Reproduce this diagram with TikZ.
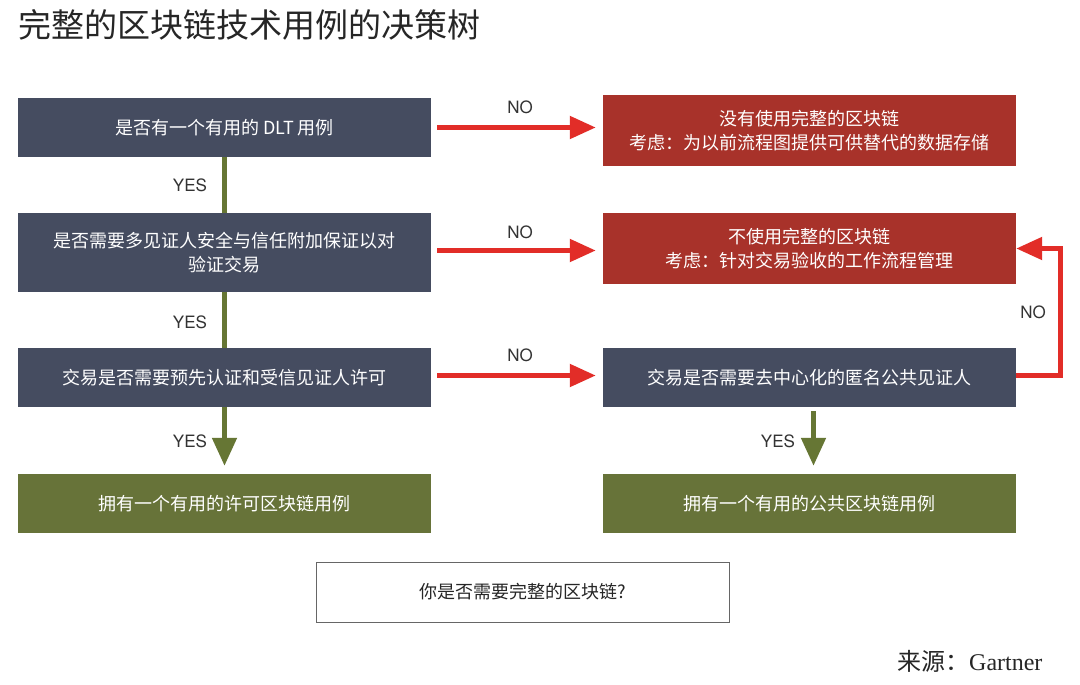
\documentclass[tikz,border=0pt]{standalone}
\usepackage{fontspec}
\setmainfont{Noto Sans CJK SC}
\newfontfamily\helv{TeX Gyre Heros}
\newfontfamily\tnr{Liberation Serif}
\usepackage{tikz}
\usetikzlibrary{arrows.meta}
\usepackage{xcolor}
\definecolor{slate}{RGB}{69,76,96}
\definecolor{brick}{RGB}{168,50,42}
\definecolor{olive}{RGB}{103,115,57}
\definecolor{arrowred}{RGB}{226,45,40}
\definecolor{arrowgreen}{RGB}{102,118,52}

\begin{document}
\begin{tikzpicture}[x=1pt,y=-1pt,
  box/.style={minimum width=413pt, inner sep=0pt, text=white, align=center,
    font=\fontsize{18}{24}\selectfont},
  slatebox/.style={box, fill=slate, minimum height=59pt},
  brickbox/.style={box, fill=brick, minimum height=71pt},
  olivebox/.style={box, fill=olive, minimum height=59pt},
  answer/.style={font=\helv\fontsize{17}{17}\selectfont, text=black!80},
  redarrow/.style={draw=arrowred, line width=5pt, -{Triangle[length=26pt,width=22pt]}},
  greenline/.style={draw=arrowgreen, line width=5pt},
  greenarrow/.style={greenline, -{Triangle[length=28pt,width=24pt]}}]

\fill[white] (0,0) rectangle (1080,685);

% title
\node[anchor=west, font=\fontsize{33}{33}\selectfont, text=black!85] (title) at (15,25) {完整的区块链技术用例的决策树};

% left column
\node[slatebox] (q1) at (224.5,127.5) {是否有一个有用的 DLT 用例};
\node[slatebox, minimum height=79pt] (q2) at (224.5,252.5) {是否需要多见证人安全与信任附加保证以对\\验证交易};
\node[slatebox] (q3) at (224.5,377.5) {交易是否需要预先认证和受信见证人许可};
\node[olivebox] (permit) at (224.5,503.5) {拥有一个有用的许可区块链用例};

% right column
\node[brickbox] (nodlt) at (809.5,130.5) {没有使用完整的区块链\\考虑：为以前流程图提供可供替代的数据存储};
\node[brickbox] (noneed) at (809.5,248.5) {不使用完整的区块链\\考虑：针对交易验收的工作流程管理};
\node[slatebox] (q4) at (809.5,377.5) {交易是否需要去中心化的匿名公共见证人};
\node[olivebox] (public) at (809.5,503.5) {拥有一个有用的公共区块链用例};

% question
\node[draw=black!60, line width=1pt, minimum width=413pt, minimum height=60pt,
  font=\fontsize{18}{24}\selectfont, text=black!85] (ask) at (522.5,592) {你是否需要完整的区块链?};

% NO
\draw[redarrow, shorten <=6pt, shorten >=7pt] (q1.east) -- (q1.east -| nodlt.west);
\draw[redarrow, shorten <=6pt, shorten >=7pt] ([yshift=2pt]q2.east) -- ([yshift=2pt]q2.east -| noneed.west);
\draw[redarrow, shorten <=6pt, shorten >=7pt] ([yshift=2pt]q3.east) -- ([yshift=2pt]q3.east -| q4.west);
\draw[redarrow] ([yshift=2pt]q4.east) -- ++(44,0) |- (noneed.east);

\node[answer] (no1) at (520,107) {NO};
\node[answer] (no2) at (520,232) {NO};
\node[answer] (no3) at (520,355) {NO};
\node[answer] (no4) at (1033,312) {NO};

% YES
\draw[greenline] (q1.south) -- (q2.north);
\draw[greenline] (q2.south) -- (q3.north);
\draw[greenarrow, shorten >=8pt] (q3.south) -- (permit.north);
\draw[greenarrow, shorten <=4pt, shorten >=8pt] ([xshift=4pt]q4.south) -- ([xshift=4pt]public.north);

\node[answer] (yes1) at (190,185) {YES};
\node[answer] (yes2) at (190,322) {YES};
\node[answer] (yes3) at (190,441) {YES};
\node[answer] (yes4) at (778,441) {YES};

% source
\node[anchor=east, font=\fontsize{24}{24}\selectfont, text=black!85] (source) at (1046,661) {来源：{\tnr Gartner}};

\end{tikzpicture}
\end{document}
